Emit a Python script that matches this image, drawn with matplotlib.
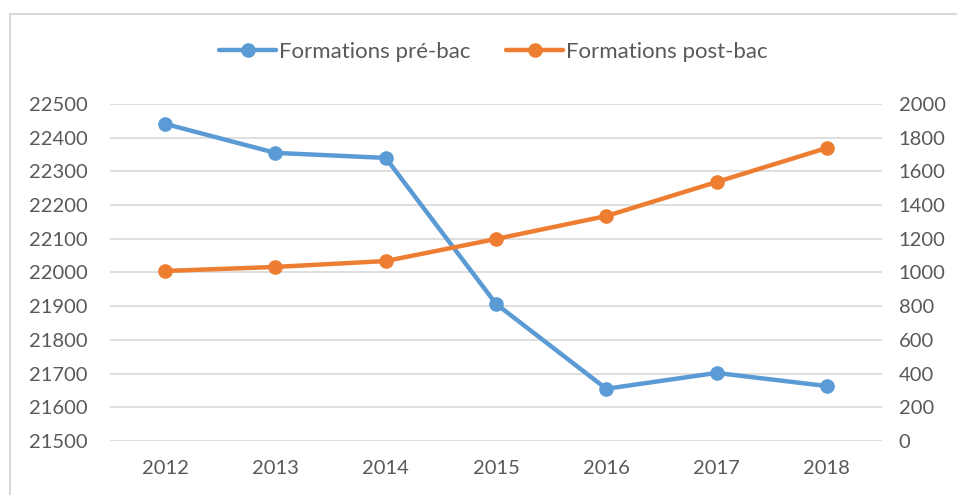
import numpy as np
import matplotlib
matplotlib.use("Agg")
import matplotlib.pyplot as plt
from matplotlib.patches import Rectangle

years = ["2012", "2013", "2014", "2015", "2016", "2017", "2018"]
pre_bac = [22441, 22355, 22340, 21907, 21655, 21702, 21663]
post_bac = [1009, 1033, 1068, 1199, 1335, 1537, 1739]

BLUE = "#5B9BD5"
ORANGE = "#ED7D31"
GRID = "#D9D9D9"
TXT = "#595959"

plt.rcParams["font.family"] = ["Lato", "DejaVu Sans"]

fig = plt.figure(figsize=(9.57, 4.95), dpi=100)
W, H = 957, 495
ax = fig.add_axes([110 / W, 1 - 441 / H, 772 / W, 337 / H])
ax2 = ax.twinx()

x = np.arange(len(years))
l1 = ax.plot(x, pre_bac, color=BLUE, lw=3.2, marker="o", ms=9.5,
             solid_capstyle="round", label="Formations pré-bac", zorder=3)
l2 = ax2.plot(x, post_bac, color=ORANGE, lw=3.2, marker="o", ms=9.5,
              solid_capstyle="round", label="Formations post-bac", zorder=3)

ax.set_xlim(-0.5, 6.5)
ax.set_ylim(21500, 22500)
ax.set_yticks(np.arange(21500, 22501, 100))
ax2.set_ylim(0, 2000)
ax2.set_yticks(np.arange(0, 2001, 200))
ax.set_xticks(x)
ax.set_xticklabels(years)

ax.grid(axis="y", color=GRID, lw=1.2)
ax.set_axisbelow(True)
for a in (ax, ax2):
    for s in a.spines.values():
        s.set_visible(False)
    a.tick_params(length=0, labelsize=14.5, colors=TXT)
ax.tick_params(axis="y", pad=16)
ax2.tick_params(axis="y", pad=12)
ax.tick_params(axis="x", pad=14)

fig.legend(l1 + l2, [h.get_label() for h in l1 + l2], loc="center",
           bbox_to_anchor=(493 / W, 1 - 52 / H), ncol=2, frameon=False,
           fontsize=16, labelcolor=TXT, handlelength=2.6, handletextpad=0.1,
           columnspacing=1.6)

fig.patches.append(Rectangle((10 / W, -0.1), 1.2, 1 - 14 / H + 0.1,
                             transform=fig.transFigure, fill=False,
                             edgecolor=GRID, lw=1.5))

fig.savefig("out.png", dpi=100)
